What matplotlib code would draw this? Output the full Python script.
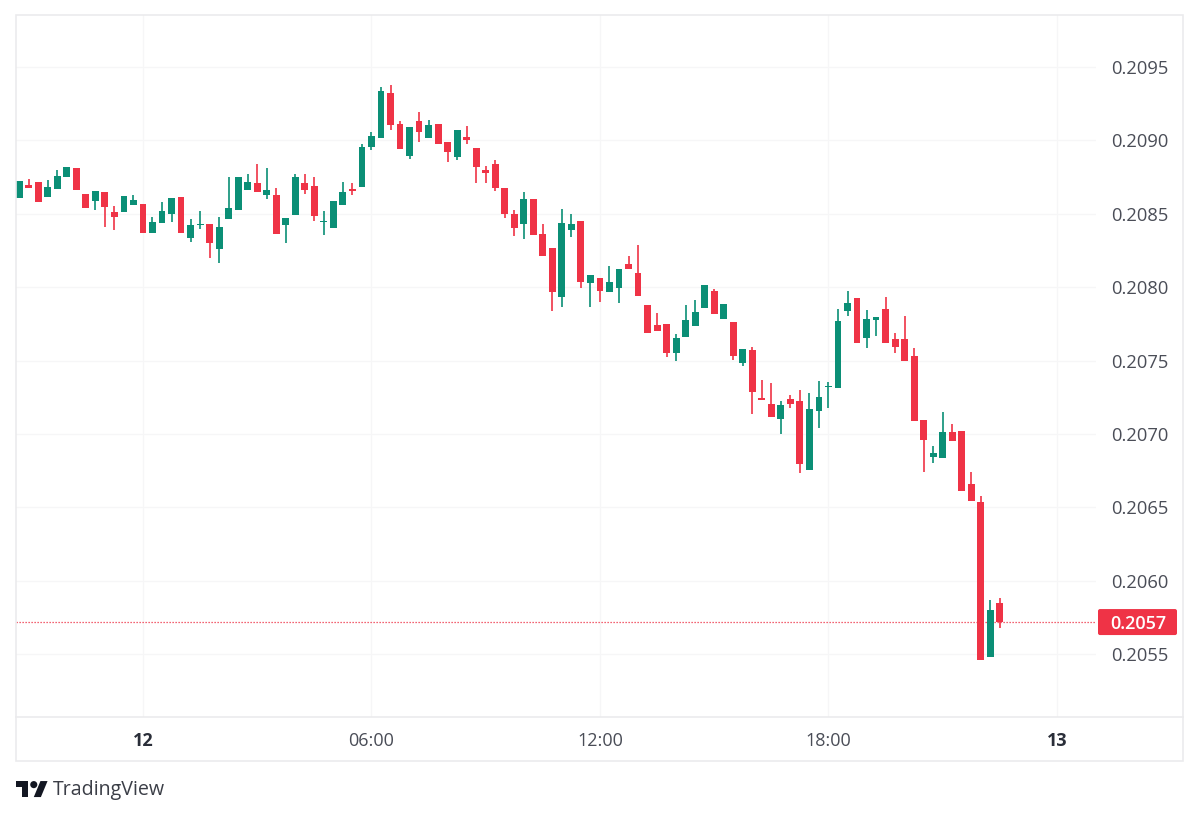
# ---------- imports ----------

import numpy as np
import matplotlib
matplotlib.use('Agg')
import matplotlib.pyplot as plt
from matplotlib.patches import Circle, FancyBboxPatch, Polygon, Rectangle
from matplotlib.transforms import IdentityTransform

# ---------- data (15 minute candles) ----------

opens = [
    .208607, .208696, .208715, .208614, .208667, .208751, .208810, .208637, .208585, .208646, .208510, .208512, .208562,
    .208567, .208371, .208439, .208501, .208612, .208337, .208422, .208430, .208260, .208467, .208526, .208664, .208712,
    .208628, .208630, .208424, .208494, .208708, .208689, .208442, .208403, .208560, .208667, .208683, .208957, .209019,
    .209321, .209112, .208894, .209130, .209019, .209110, .208991, .208889, .209025, .208946, .208796, .208837, .208678,
    .208501, .208433, .208603, .208360, .208267, .207935, .208392, .208449, .208026, .208060, .207967, .207994, .208156,
    .208094, .207878, .207740, .207749, .207552, .207663, .207738, .207860, .207972, .207785, .207765, .207481, .207572,
    .207243, .207204, .207104, .207240, .207222, .206756, .207153, .207317, .207310, .207839, .207928, .207655, .207777,
    .207849, .207645, .207645, .207531, .207093, .206841, .206838, .207011, .207022, .206661, .206538, .205482, .205850,
]
highs = [
    .208723, .208737, .208715, .208730, .208798, .208817, .208810, .208637, .208653, .208646, .208553, .208619, .208628,
    .208567, .208478, .208578, .208610, .208612, .208462, .208521, .208430, .208480, .208753, .208749, .208769, .208839,
    .208810, .208674, .208471, .208771, .208769, .208749, .208517, .208585, .208719, .208708, .208974, .209055, .209366,
    .209378, .209134, .209093, .209191, .209139, .209110, .208991, .209069, .209098, .208946, .208828, .208867, .208678,
    .208526, .208651, .208603, .208430, .208267, .208531, .208499, .208449, .208085, .208060, .208144, .208122, .208212,
    .208287, .207878, .207822, .207749, .207681, .207879, .207912, .208017, .207990, .207885, .207765, .207577, .207592,
    .207367, .207349, .207226, .207265, .207299, .207278, .207358, .207356, .207852, .207976, .207928, .207844, .207800,
    .207933, .207686, .207806, .207586, .207093, .206920, .207147, .207066, .207022, .206739, .206577, .205868, .205884,
]
lows = [
    .208607, .208676, .208582, .208614, .208667, .208751, .208664, .208537, .208526, .208408, .208390, .208512, .208562,
    .208369, .208371, .208439, .208446, .208369, .208308, .208398, .208201, .208163, .208467, .208526, .208664, .208651,
    .208599, .208364, .208299, .208494, .208633, .208449, .208353, .208403, .208560, .208626, .208683, .208935, .209019,
    .209071, .208942, .208871, .208991, .209019, .208978, .208855, .208867, .208976, .208712, .208708, .208655, .208473,
    .208349, .208326, .208358, .208214, .207838, .207867, .208342, .207996, .207867, .207901, .207967, .207889, .208122,
    .207942, .207689, .207699, .207526, .207500, .207663, .207738, .207860, .207817, .207785, .207507, .207463, .207139,
    .207233, .207113, .206999, .207175, .206732, .206756, .207042, .207179, .207310, .207804, .207622, .207587, .207668,
    .207622, .207554, .207497, .207086, .206743, .206800, .206838, .206950, .206613, .206543, .205460, .205482, .205675,
]
closes = [
    .208723, .208676, .208582, .208685, .208755, .208817, .208664, .208537, .208653, .208544, .208478, .208619, .208594,
    .208369, .208446, .208517, .208610, .208369, .208424, .208430, .208301, .208412, .208542, .208749, .208715, .208651,
    .208664, .208364, .208471, .208751, .208662, .208485, .208449, .208585, .208649, .208657, .208957, .209028, .209337,
    .209107, .208942, .209093, .209055, .209103, .208978, .208923, .209069, .209003, .208819, .208780, .208674, .208499,
    .208405, .208601, .208358, .208214, .207969, .208437, .208430, .208037, .208085, .207976, .208035, .208122, .208122,
    .207942, .207689, .207699, .207549, .207654, .207777, .207829, .208017, .207817, .207885, .207534, .207577, .207288,
    .207233, .207113, .207197, .207204, .206795, .207167, .207253, .207326, .207769, .207894, .207622, .207780, .207800,
    .207622, .207594, .207497, .207086, .206959, .206868, .207011, .206950, .206613, .206543, .205460, .205800, .205718,
]

price_ticks = [0.2055, 0.2060, 0.2065, 0.2070, 0.2075, 0.2080, 0.2085, 0.2090, 0.2095]
time_ticks = [13, 37, 61, 85, 109]
time_labels = ['12', '06:00', '12:00', '18:00', '13']

GREEN = '#0b8f76'
RED = '#ef3346'
GRID = '#f6f6f7'
FRAME = '#ebebed'
TEXT = '#4a4d57'
W, H = 1200, 817

plt.rcParams['font.family'] = ['Open Sans', 'DejaVu Sans']


def px_rect(left, top, right, bottom):
    # figure fractions from picture pixels
    return [left / W, 1 - bottom / H, (right - left) / W, (bottom - top) / H]


# ---------- chart ----------

fig = plt.figure(figsize=(12, 8.17), dpi=100, facecolor='white')
ax = fig.add_axes(px_rect(16, 15, 1096, 717))

x = np.arange(len(opens))
opens = np.array(opens)
closes = np.array(closes)
colors = [GREEN if c >= o else RED for o, c in zip(opens, closes)]

ax.vlines(x, lows, highs, colors=colors, linewidth=1.2, zorder=3)
ax.bar(x, np.maximum(np.abs(closes - opens), 0.000012), bottom=np.minimum(opens, closes),
       width=0.72, color=colors, linewidth=0, zorder=4)

ax.set_xlim(-0.336, 113.1)
ax.set_ylim(0.205071, 0.209855)

ax.set_yticks(price_ticks)
ax.set_yticklabels([f'{p:.4f}' for p in price_ticks])
ax.yaxis.tick_right()
ax.set_xticks(time_ticks)
ax.set_xticklabels(time_labels)
ax.tick_params(axis='y', length=0, pad=10.6, labelsize=13.2, labelcolor=TEXT)
ax.tick_params(axis='x', length=0, pad=11, labelsize=13, labelcolor=TEXT)
for lab, txt in zip(ax.get_xticklabels(), time_labels):
    if ':' not in txt:
        lab.set_fontweight('bold')
        lab.set_color('#2a2e39')

ax.grid(True, color=GRID, linewidth=0.9, zorder=0)
ax.set_axisbelow(True)
for s in ax.spines.values():
    s.set_visible(False)

# last price line and its label
last = closes[-1]
ax.axhline(last, color=RED, linestyle=(0, (1, 1.4)), linewidth=0.9, zorder=2)
y_last = ax.transData.transform((0, last))[1]
fig.add_artist(FancyBboxPatch((1098, y_last - 13), 79, 26, boxstyle='round,pad=0,rounding_size=2',
                              transform=IdentityTransform(), facecolor=RED, edgecolor='none'))
fig.text(1138 / W, y_last / H, f'{last:.4f}', color='white', fontsize=13, fontweight='semibold',
         ha='center', va='center_baseline')

# frame around chart and time scale
fig.add_artist(Rectangle((16 / W, 1 - 761 / H), 1167 / W, 746 / H, transform=fig.transFigure,
                         facecolor='none', edgecolor=FRAME, linewidth=1.2))
fig.add_artist(plt.Line2D([16 / W, 1183 / W], [1 - 717 / H, 1 - 717 / H], transform=fig.transFigure,
                          color=FRAME, linewidth=1.2))

# ---------- TradingView logo ----------

LOGO = '#131722'
scale = 0.889


def logo_pts(pts):
    return [((16 + px * scale) / W, 1 - (777.5 + py * scale) / H) for px, py in pts]


fig.add_artist(Polygon(logo_pts([(0, 4), (14, 4), (14, 22), (7, 22), (7, 11), (0, 11)]),
                       transform=fig.transFigure, facecolor=LOGO, edgecolor='none'))
fig.add_artist(Polygon(logo_pts([(28, 22), (20, 22), (27.5, 4), (35.5, 4)]),
                       transform=fig.transFigure, facecolor=LOGO, edgecolor='none'))
fig.add_artist(Circle((16 + 20 * scale, 817 - (777.5 + 8 * scale)), 4 * scale,
                      transform=IdentityTransform(), facecolor=LOGO, edgecolor='none'))
fig.text(53 / W, 1 - 789.5 / H, 'TradingView', color='#3b3e47', fontsize=14.1, ha='left', va='center')

fig.savefig('out.png', dpi=100)
